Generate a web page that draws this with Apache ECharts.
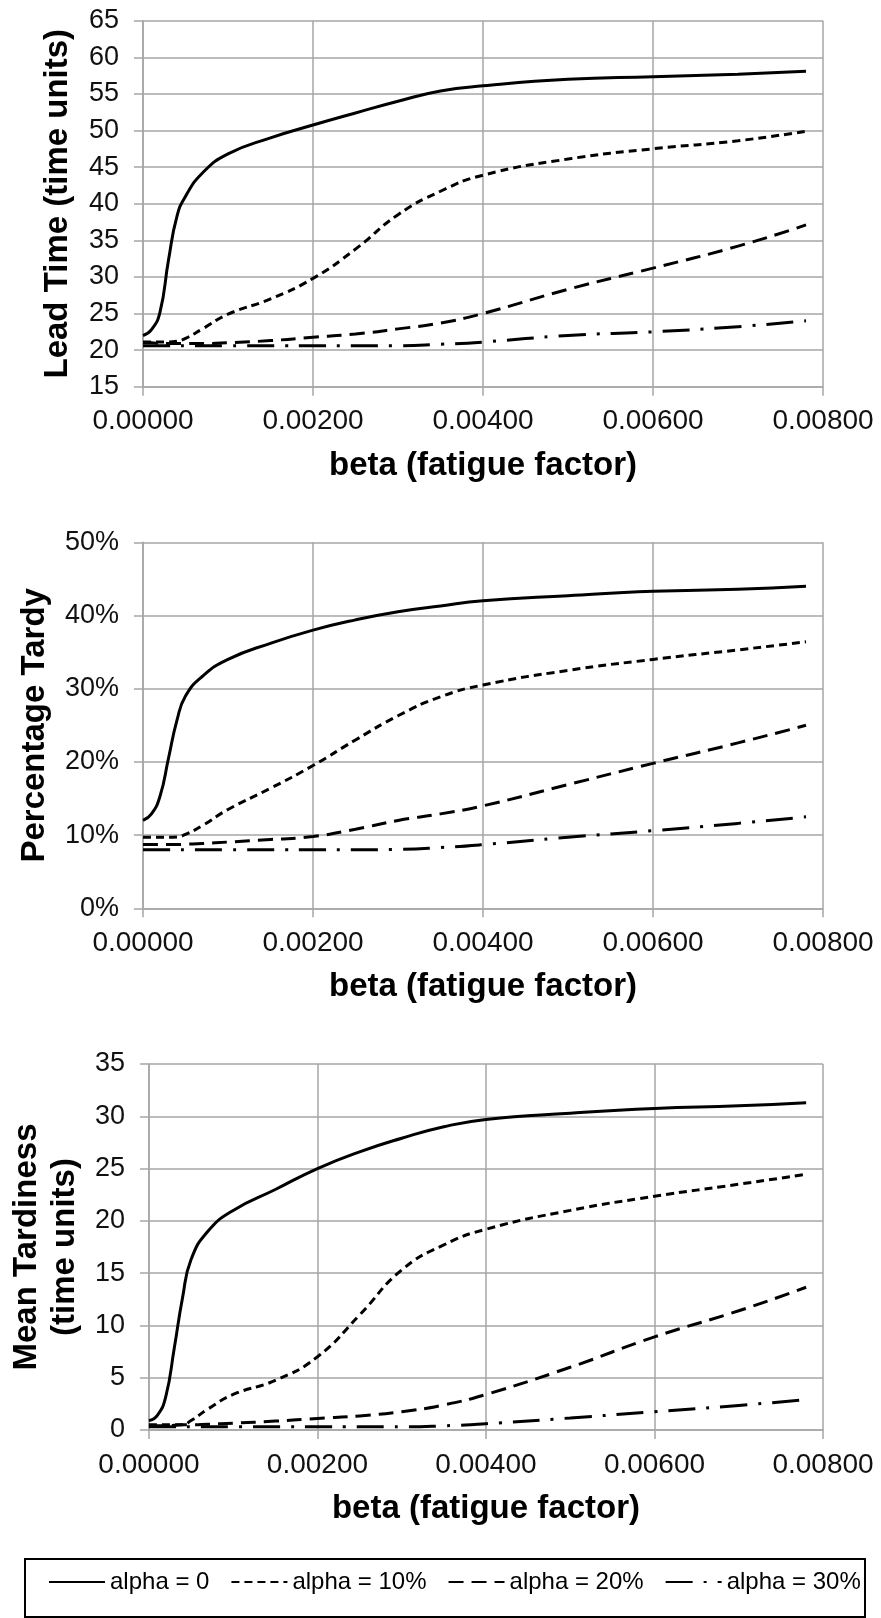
<!DOCTYPE html>
<html>
<head>
<meta charset="utf-8">
<script src="https://cdn.jsdelivr.net/npm/echarts@6/dist/echarts.min.js"></script>
<style>
  html, body { margin: 0; padding: 0; background: #fff; }
  #chart { width: 881px; height: 1618px; }
</style>
</head>
<body>
<div id="chart"></div>
<script>
  // beta (fatigue factor) sample points
  const beta = [0, 0.0001, 0.0002, 0.0003, 0.0004, 0.0005, 0.0007, 0.001, 0.0015, 0.002,
                0.0025, 0.003, 0.0035, 0.004, 0.005, 0.006, 0.007, 0.0078]

  // Lead Time (time units)
  const leadA0  = [22.0, 22.8, 25.2, 32.3, 38.3, 41.0, 44.2, 46.8, 49.0, 50.75, 52.4, 54.0, 55.4, 56.1, 57.0, 57.35, 57.7, 58.1]
  const leadA10 = [21.1, 21.1, 21.1, 21.1, 21.2, 21.6, 22.9, 24.9, 27.0, 29.8, 33.8, 38.5, 41.7, 43.9, 46.1, 47.5, 48.6, 49.9]
  const leadA20 = [21.0, 21.0, 20.9, 20.9, 20.9, 20.9, 20.9, 21.0, 21.3, 21.75, 22.2, 22.9, 23.7, 25.0, 28.3, 31.2, 34.2, 37.1]
  const leadA30 = [20.6, 20.6, 20.6, 20.6, 20.6, 20.6, 20.6, 20.6, 20.6, 20.6, 20.6, 20.6, 20.8, 21.1, 22.0, 22.5, 23.2, 24.0]

  // Percentage Tardy (%)
  const tardyA0  = [12.0, 12.9, 15.3, 20.5, 25.7, 29.0, 31.7, 34.0, 36.2, 38.0, 39.4, 40.5, 41.3, 42.0, 42.7, 43.3, 43.6, 44.0]
  const tardyA10 = [9.7, 9.7, 9.7, 9.7, 9.75, 10.1, 11.3, 13.5, 16.4, 19.5, 23.0, 26.3, 28.9, 30.5, 32.5, 34.0, 35.3, 36.4]
  const tardyA20 = [8.7, 8.7, 8.7, 8.7, 8.7, 8.75, 8.85, 9.05, 9.4, 9.8, 10.8, 12.0, 12.9, 14.0, 16.9, 19.8, 22.6, 25.0]
  const tardyA30 = [8.0, 8.0, 8.0, 8.0, 8.0, 8.0, 8.0, 8.0, 8.0, 8.0, 8.0, 8.05, 8.3, 8.7, 9.7, 10.6, 11.6, 12.5]

  // Mean Tardiness (time units)
  const tardA0  = [0.9, 1.4, 3.2, 7.8, 12.7, 16.3, 19.0, 21.0, 23.0, 25.0, 26.6, 27.9, 29.0, 29.7, 30.3, 30.75, 31.0, 31.3]
  const tardA10 = [0.5, 0.5, 0.5, 0.5, 0.5, 0.9, 2.0, 3.4, 4.75, 7.0, 11.0, 15.3, 17.7, 19.2, 21.0, 22.35, 23.5, 24.45]
  const tardA20 = [0.4, 0.4, 0.4, 0.45, 0.5, 0.5, 0.55, 0.65, 0.85, 1.1, 1.35, 1.75, 2.4, 3.4, 6.0, 8.9, 11.4, 13.65]
  const tardA30 = [0.3, 0.3, 0.3, 0.3, 0.3, 0.3, 0.3, 0.3, 0.3, 0.3, 0.3, 0.3, 0.4, 0.6, 1.15, 1.75, 2.35, 2.9]

  const seriesNames = ['alpha = 0', 'alpha = 10%', 'alpha = 20%', 'alpha = 30%']
  const dashTypes = ['solid', [8, 5], [15, 8], [27, 11, 3, 11]]

  const font = 'Liberation Sans, Arial, sans-serif'
  const gridColor = '#a6a6a6'

  const chart = echarts.init(document.getElementById('chart'), null, { renderer: 'canvas' })

  function makeX(idx) {
    return {
      type: 'value',
      gridIndex: idx,
      min: 0,
      max: 0.008,
      interval: 0.002,
      name: 'beta (fatigue factor)',
      nameLocation: 'middle',
      nameGap: 60,
      nameTextStyle: { fontFamily: font, fontSize: 33, fontWeight: 'bold', color: '#000', lineHeight: 38 },
      axisLine: { show: true, onZero: false, lineStyle: { color: gridColor, width: 1.5 } },
      axisTick: { show: true, length: 9, lineStyle: { color: gridColor, width: 1.5 } },
      axisLabel: { fontFamily: font, fontSize: 28, color: '#111', margin: 21,
        formatter: v => v.toFixed(5) },
      splitLine: { show: true, lineStyle: { color: gridColor, width: 1.5 } }
    }
  }

  function makeY(idx, min, max, interval, name, gap, fmt) {
    return {
      type: 'value',
      gridIndex: idx,
      min: min,
      max: max,
      interval: interval,
      name: name,
      nameLocation: 'middle',
      nameGap: gap,
      nameTextStyle: { fontFamily: font, fontSize: 33, fontWeight: 'bold', color: '#000', lineHeight: 38 },
      axisLine: { show: true, lineStyle: { color: gridColor, width: 1.5 } },
      axisTick: { show: true, length: 9, lineStyle: { color: gridColor, width: 1.5 } },
      axisLabel: { fontFamily: font, fontSize: 27, color: '#111', margin: 24, formatter: fmt },
      splitLine: { show: true, lineStyle: { color: gridColor, width: 1.5 } }
    }
  }

  function makeSeries(idx, arrays) {
    return arrays.map((arr, i) => ({
      name: seriesNames[i],
      type: 'line',
      xAxisIndex: idx,
      yAxisIndex: idx,
      data: beta.map((b, j) => [b, arr[j]]),
      smooth: 0.5,
      symbol: 'none',
      animation: false,
      lineStyle: { color: '#000', width: 3, type: dashTypes[i], cap: 'butt' },
      itemStyle: { color: '#000' }
    }))
  }

  const option = {
    backgroundColor: '#fff',
    animation: false,
    grid: [
      { left: 143, right: 58, top: 20.7, height: 366 },
      { left: 143, right: 58, top: 542.3, height: 366 },
      { left: 143, right: 58, top: 1064, height: 366 }
    ],
    xAxis: [makeX(0), makeX(1), makeX(2)],
    yAxis: [
      makeY(0, 15, 65, 5, 'Lead Time (time units)', 66, '{value}'),
      makeY(1, 0, 50, 10, 'Percentage Tardy', 84, '{value}%'),
      makeY(2, 0, 35, 5, 'Mean Tardiness\n(time units)', 60, '{value}')
    ],
    legend: {
      data: seriesNames,
      left: 48,
      top: 1570,
      padding: 0,
      itemWidth: 56,
      itemHeight: 14,
      itemGap: 21,
      itemStyle: { opacity: 0 },
      textStyle: { fontFamily: font, fontSize: 24, color: '#000' }
    },
    graphic: [{
      type: 'rect',
      shape: { x: 25, y: 1559, width: 840, height: 58 },
      style: { fill: 'none', stroke: '#000', lineWidth: 2 },
      silent: true
    }],
    series: [].concat(
      makeSeries(0, [leadA0, leadA10, leadA20, leadA30]),
      makeSeries(1, [tardyA0, tardyA10, tardyA20, tardyA30]),
      makeSeries(2, [tardA0, tardA10, tardA20, tardA30])
    )
  }

  chart.setOption(option)
</script>
</body>
</html>
